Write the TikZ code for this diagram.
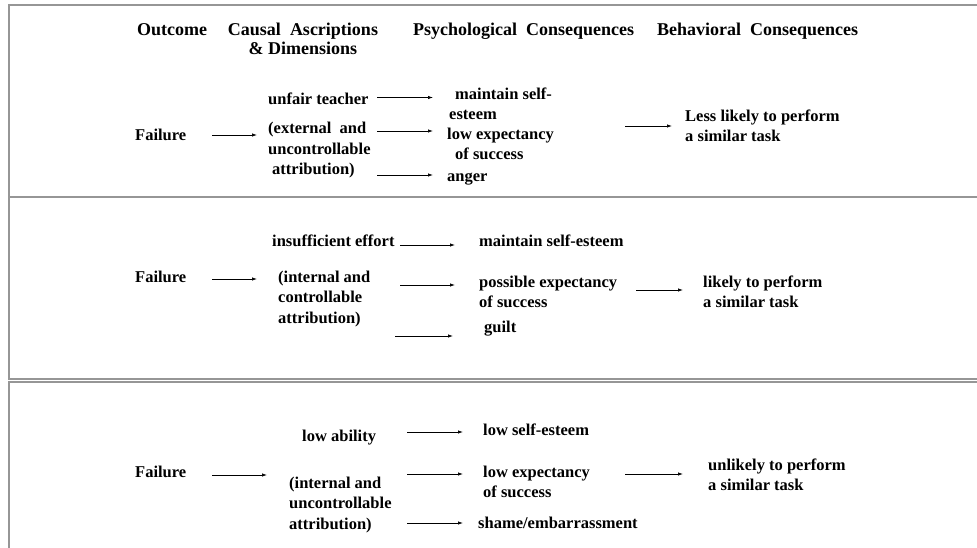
\documentclass[tikz,border=0pt]{standalone}
\usepackage{fontspec}
\setmainfont{Liberation Serif}
\usetikzlibrary{arrows.meta}
\begin{document}
\begin{tikzpicture}[x=1pt,y=-1pt,
  txt/.style={anchor=base west,inner sep=0pt,align=left,font=\bfseries\fontsize{16.5}{20.5}\selectfont},
  hdr/.style={anchor=base west,inner sep=0pt,font=\bfseries\fontsize{18}{19.5}\selectfont},
  arr/.style={-{Latex[length=5pt,width=3.4pt]},line width=0.7pt},
  frame/.style={draw={rgb,255:red,150;green,150;blue,150},line width=2pt}]
\useasboundingbox (0,0) rectangle (977,548);
% frames
\draw[frame] (9,5) rectangle (1000,197);
\draw[frame] (9,197) rectangle (1000,379);
\draw[frame] (9,382) rectangle (1000,570);
% headers
\node[hdr] (h1) at (137,36) {Outcome};
\node[hdr,align=center,anchor=base] (h2) at (303,55) {Causal\ \ Ascriptions\\\& Dimensions};
\node[hdr] (h3) at (413,36) {Psychological\ \ Consequences};
\node[hdr] (h4) at (657,36) {Behavioral\ \ Consequences};
% row 1 (base anchor = baseline of last line)
\node[txt] (f1) at (135,141) {Failure};
\node[txt] (ut) at (268,105) {unfair teacher};
\node[txt] (ext) at (268,175) {(external\ \ and\\uncontrollable\\\hspace*{4pt}attribution)};
\node[txt] (ms1) at (455,120) {maintain self-\\\hspace*{-6pt}esteem};
\node[txt] (le1) at (447,160) {low expectancy\\\hspace*{8pt}of success};
\node[txt] (an1) at (447,182) {anger};
\node[txt] (b1) at (685,142) {Less likely to perform\\a similar task};
\coordinate (a1s) at (212,135); \coordinate (a1e) at (257,135);
\coordinate (a2s) at (377,97.5); \coordinate (a2e) at (433,97.5);
\coordinate (a3s) at (377,131); \coordinate (a3e) at (433,131);
\coordinate (a4s) at (377,175); \coordinate (a4e) at (433,175);
\coordinate (a5s) at (625,126); \coordinate (a5e) at (672,126);
\foreach \i in {1,...,5} \draw[arr] (a\i s) -- (a\i e);
% row 2
\node[txt] (f2) at (135,282) {Failure};
\node[txt] (ie) at (272,247) {insufficient effort};
\node[txt] (int2) at (278,323) {(internal and\\controllable\\attribution)};
\node[txt] (ms2) at (479,247) {maintain self-esteem};
\node[txt] (pe2) at (479,307.5) {possible expectancy\\of success};
\node[txt] (gu2) at (484,332) {guilt};
\node[txt] (b2) at (703,307.5) {likely to perform\\a similar task};
\coordinate (b1s) at (212,279); \coordinate (b1e) at (257,279);
\coordinate (b2s) at (400,245); \coordinate (b2e) at (455,245);
\coordinate (b3s) at (400,285); \coordinate (b3e) at (455,285);
\coordinate (b4s) at (395,336); \coordinate (b4e) at (453,336);
\coordinate (b5s) at (636,290); \coordinate (b5e) at (683,290);
\foreach \i in {1,...,5} \draw[arr] (b\i s) -- (b\i e);
% row 3
\node[txt] (f3) at (135,477) {Failure};
\node[txt] (la) at (302,441) {low ability};
\node[txt] (int3) at (289,529) {(internal and\\uncontrollable\\attribution)};
\node[txt] (lse) at (483,435) {low self-esteem};
\node[txt] (le3) at (483,497.5) {low expectancy\\of success};
\node[txt] (sh) at (478,528) {shame/embarrassment};
\node[txt] (b3) at (708,490.5) {unlikely to perform\\a similar task};
\coordinate (c1s) at (212,475); \coordinate (c1e) at (267,475);
\coordinate (c2s) at (407,432); \coordinate (c2e) at (463,432);
\coordinate (c3s) at (407,474); \coordinate (c3e) at (463,474);
\coordinate (c4s) at (407,523); \coordinate (c4e) at (463,523);
\coordinate (c5s) at (625,474); \coordinate (c5e) at (683,474);
\foreach \i in {1,...,5} \draw[arr] (c\i s) -- (c\i e);
\end{tikzpicture}
\end{document}
